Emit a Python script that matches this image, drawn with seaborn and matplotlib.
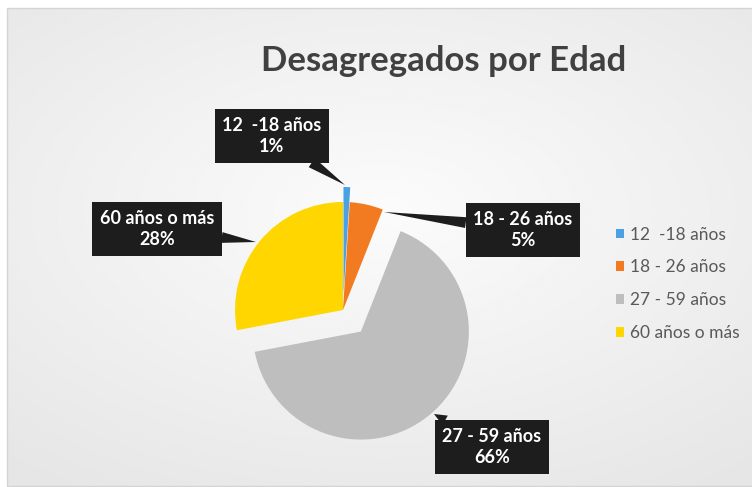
import numpy as np
import matplotlib
matplotlib.use("Agg")
import matplotlib.pyplot as plt
from matplotlib.patches import Rectangle
import seaborn as sns

# ---- data ----
categories = ["12  -18 años", "18 - 26 años", "27 - 59 años", "60 años o más"]
values = [1, 5, 66, 28]
pct_labels = ["1%", "5%", "66%", "28%"]
title = "Desagregados por Edad"

sns.set_theme(style="white")
plt.rcParams["font.family"] = ["Lato", "DejaVu Sans"]

W, H = 752, 487
fig = plt.figure(figsize=(W / 100, H / 100), dpi=100)
fig.patch.set_facecolor("white")
ax = fig.add_axes([0, 0, 1, 1])


def Y(y):
    return H - y


# background gradient of chart area
gx, gy = np.meshgrid(np.linspace(-1, 1, 300), np.linspace(-1, 1, 200))
r = np.sqrt((gx * 0.9) ** 2 + ((gy + 0.15) * 1.0) ** 2)
grad = 0.985 - 0.085 * np.clip(r, 0, 1.4) / 1.4
ax.imshow(grad, extent=(7, 760, Y(486), Y(8)), cmap="gray", vmin=0, vmax=1,
          origin="upper", zorder=0, aspect="auto", interpolation="bilinear")
ax.add_patch(Rectangle((7, Y(486)), 760, 478, fill=False, ec="#d4d4d4", lw=1, zorder=1))

colors = ["#4aa2e2", "#f27a20", "#bebebe", "#ffd600"]
# explode offsets (matplotlib applies them in data units -> pixels here)
explode = [15, 0, 28, 0]
wedges, _ = ax.pie(values, explode=explode, colors=colors, startangle=90,
                   counterclock=False, center=(343, Y(310)), radius=108,
                   wedgeprops=dict(linewidth=0), frame=True)
for w in wedges:
    w.set_zorder(3)

ax.set_xlim(0, W)
ax.set_ylim(0, H)
ax.set_aspect("equal")
ax.axis("off")

ax.text(444, Y(61), title, ha="center", va="center", fontsize=25,
        fontweight="bold", color="#404040", zorder=5)

# data labels (callouts)
label_pos = [(272, 136), (523, 230), (492, 447), (157, 229)]
point_pos = [(345, 185), (384, 212), (434, 414), (256, 242)]
for cat, pct, (tx, ty), (px, py) in zip(categories, pct_labels, label_pos, point_pos):
    ax.annotate(f"{cat}\n{pct}", xy=(px, Y(py)), xytext=(tx, Y(ty)),
                ha="center", va="center", fontsize=13, fontweight="bold",
                color="white", linespacing=1.3, zorder=6,
                bbox=dict(boxstyle="square,pad=0.42", fc="#1d1d1d", ec="none"),
                arrowprops=dict(arrowstyle="wedge,tail_width=0.6", fc="#1d1d1d",
                                ec="none", shrinkA=0, shrinkB=0))

leg = ax.legend(wedges, categories, loc="upper left",
                bbox_to_anchor=(600 / W, 1 - 211 / H), frameon=False,
                handlelength=0.5, handleheight=0.5, handletextpad=0.35,
                labelspacing=0.97, fontsize=12.5)
for t in leg.get_texts():
    t.set_color("#595959")

fig.savefig("out.png", dpi=100, facecolor="white")
